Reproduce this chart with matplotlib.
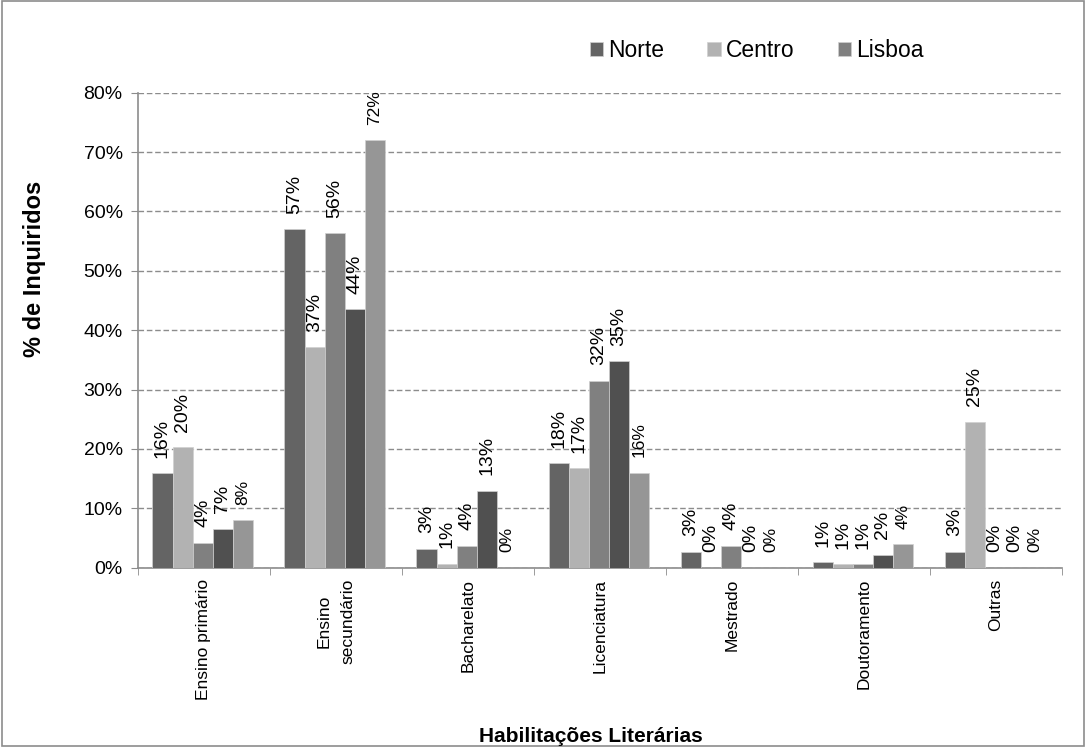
import matplotlib
matplotlib.use('Agg')
import matplotlib.pyplot as plt
import numpy as np

plt.rcParams['font.family'] = ['Liberation Sans', 'DejaVu Sans']

categorias = ['Ensino primário', 'Ensino\nsecundário', 'Bacharelato', 'Licenciatura',
              'Mestrado', 'Doutoramento', 'Outras']
# five series, only the first three appear in the legend
series = ['Norte', 'Centro', 'Lisboa', '', '']
norte = [15.9, 57.0, 3.2, 17.6, 2.7, 0.9, 2.7]
centro = [20.3, 37.1, 0.7, 16.8, 0.0, 0.6, 24.6]
lisboa = [4.2, 56.4, 3.7, 31.5, 3.7, 0.6, 0.0]
serie4 = [6.6, 43.5, 13.0, 34.8, 0.0, 2.2, 0.0]
serie5 = [8.0, 72.0, 0.0, 16.0, 0.0, 4.0, 0.0]
valores = [norte, centro, lisboa, serie4, serie5]
cores = ['#646464', '#b2b2b2', '#808080', '#505050', '#969696']

fig = plt.figure(figsize=(10.86, 7.47), dpi=100)
ax = fig.add_axes([0.127, 0.24, 0.851, 0.636])

x = np.arange(len(categorias))
w = 0.152
for k, vals in enumerate(valores):
    pos = x - 2 * w + k * w - 0.01
    bars = ax.bar(pos, vals, w, color=cores[k], edgecolor='#d0d0d0', linewidth=0.5,
                  label=series[k] if series[k] else '_nolegend_', zorder=3)
    fs = 12.5 if k == 4 else 14
    for b, v in zip(bars, vals):
        ax.annotate('%d%%' % round(v), (b.get_x() + b.get_width() / 2, v),
                    xytext=(0, 11), textcoords='offset points',
                    rotation=90, ha='center', va='bottom', fontsize=fs, zorder=4)

ax.set_xlim(-0.5, len(categorias) - 0.5)
ax.set_ylim(0, 80)
ax.set_yticks(np.arange(0, 81, 10))
ax.set_yticklabels(['%d%%' % t for t in range(0, 81, 10)], fontsize=14)
ax.yaxis.grid(True, linestyle=(0, (4, 2)), color='#8c8c8c', linewidth=1.0, zorder=0)

ax.set_xticks(x)
ax.set_xticklabels(categorias, rotation=90, fontsize=12.5, ha='center', va='top', linespacing=1.7)
ax.tick_params(axis='x', length=0, pad=8)
ax.set_xticks(np.arange(-0.5, len(categorias), 1), minor=True)
ax.tick_params(axis='x', which='minor', length=5, color='#8c8c8c')
ax.tick_params(axis='y', length=5, color='#8c8c8c', pad=6)

for s in ['top', 'right']:
    ax.spines[s].set_visible(False)
for s in ['left', 'bottom']:
    ax.spines[s].set_color('#8c8c8c')
    ax.spines[s].set_linewidth(1.2)

ax.set_ylabel('% de Inquiridos', fontsize=17, fontweight='bold')
ax.yaxis.set_label_coords(-0.0995, 0.628)
fig.text(0.544, 0.0147, 'Habilitações Literárias', ha='center', va='center',
         fontsize=15, fontweight='bold')

leg = ax.legend(loc='center left', bbox_to_anchor=(0.489, 1.088), ncol=3, frameon=False,
                fontsize=16.5, handlelength=0.57, handleheight=0.57, handletextpad=0.22,
                columnspacing=1.9, borderaxespad=0, borderpad=0)

fig.patches.append(plt.Rectangle((0.002, 0.002), 0.996, 0.996, transform=fig.transFigure,
                                 fill=False, edgecolor='#8c8c8c', linewidth=1.2))

fig.savefig('out.png', dpi=100)
